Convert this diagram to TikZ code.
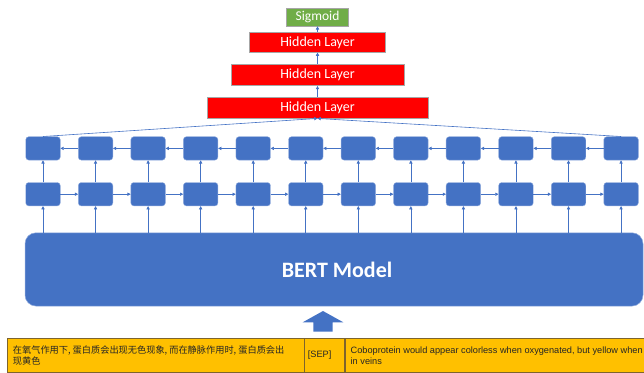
\documentclass[tikz,border=0pt]{standalone}
\usepackage{fontspec}
\setmainfont{Carlito}
\newfontfamily\arialf{Liberation Sans}
\newfontfamily\cjk{Noto Sans CJK SC}
\usetikzlibrary{arrows.meta}
\definecolor{bertblue}{RGB}{68,114,196}
\definecolor{cellline}{RGB}{143,170,220}
\definecolor{layerred}{RGB}{255,0,0}
\definecolor{siggreen}{RGB}{112,173,71}
\definecolor{inputgold}{RGB}{255,192,0}
\definecolor{inputline}{RGB}{125,100,45}

\begin{document}
\begin{tikzpicture}[x=1pt,y=-1pt,
  cell/.style={draw=cellline,line width=0.4pt,fill=bertblue,rounded corners=3pt,minimum width=34.5pt,minimum height=23.4pt,inner sep=0pt},
  layer/.style={draw=gray!70,line width=0.5pt,fill=layerred,text=white,font=\fontsize{14}{16}\selectfont,inner sep=0pt,minimum height=21.4pt},
  link/.style={draw=bertblue,line width=0.6pt,-{Triangle[length=3.2pt,width=3.2pt]}},
  tok/.style={draw=inputline,line width=0.6pt,fill=inputgold,minimum height=34pt,inner sep=0pt,anchor=north west},
  toktext/.style={anchor=west,align=left,inner sep=0pt,text=black!85}]
\useasboundingbox (0,0) rectangle (644,372);

% output head
\node[layer,minimum width=221pt] (h1) at (317.5,107.5) {Hidden Layer};
\node[layer,minimum width=173pt] (h2) at (317.5,75) {Hidden Layer};
\node[layer,minimum width=136pt,minimum height=20pt] (h3) at (317.5,42.3) {Hidden Layer};
\node[layer,fill=siggreen,minimum width=61.6pt,minimum height=17.7pt,font=\fontsize{13.5}{15}\selectfont] (sig) at (317.5,17.2) {Sigmoid};
\draw[link] (h1) -- (h2);
\draw[link] (h2) -- (h3);
\draw[link] (h3) -- (sig);

% bidirectional cells
\foreach \i in {1,...,12} {
  \node[cell] (t\i) at ({43+52.55*(\i-1)},148.4) {};
  \node[cell] (b\i) at ({43+52.55*(\i-1)},194.2) {};
}
\foreach \i in {1,...,11} {
  \pgfmathtruncatemacro\j{\i+1}
  \draw[link] (b\i) -- (b\j);
  \draw[link] (t\j) -- (t\i);
}
\draw[link] (t1.north) -- (h1.south);
\draw[link] (t12.north) -- (h1.south);

% encoder
\node[draw=cellline,line width=0.5pt,fill=bertblue,rounded corners=11pt,minimum width=618pt,minimum height=73.3pt,text=white,font=\bfseries\fontsize{22}{26}\selectfont] (bert) at (334,269.4) {\hspace{6pt}BERT Model};
\foreach \i in {1,...,12} {
  \draw[link] (b\i) -- (t\i);
  \draw[link] (b\i |- bert.north) -- (b\i);
}
\fill[bertblue] (313.3,331.7) -- (313.3,322.3) -- (302.7,322.3) -- (323,311)
  -- (343.3,322.3) -- (332.7,322.3) -- (332.7,331.7) -- cycle;

% input pair
\node[tok,minimum width=296.5pt] (zh) at (7,338.3) {};
\node[tok,minimum width=39.8pt] (sep) at (zh.north east) {};
\node[tok,minimum width=310pt] (en) at (sep.north east) {};
\node[toktext,font=\cjk\fontsize{9.2}{11.6}\selectfont] (zhtext) at ([xshift=5.7pt]zh.west) {在氧气作用下, 蛋白质会出现无色现象, 而在静脉作用时, 蛋白质会出\\现黄色};
\node[toktext,font=\arialf\fontsize{9.2}{11.6}\selectfont] (septext) at ([xshift=3.6pt]sep.west) {[SEP]};
\node[toktext,font=\arialf\fontsize{9.2}{11.6}\selectfont] (entext) at ([xshift=6pt]en.west) {Coboprotein would appear colorless when oxygenated, but yellow when\\in veins};
\end{tikzpicture}
\end{document}
